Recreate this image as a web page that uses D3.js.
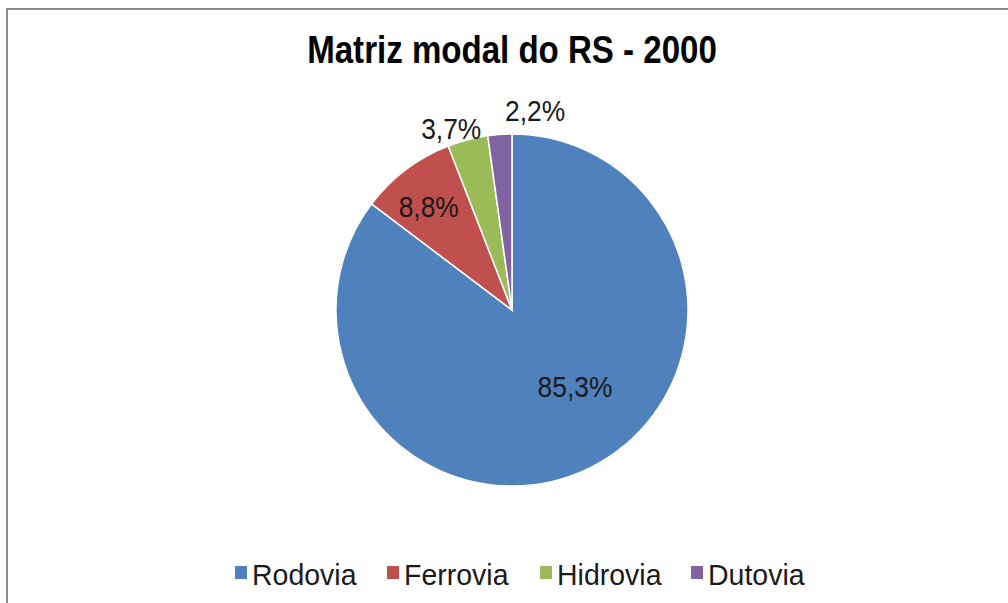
<!DOCTYPE html>
<html><head><meta charset="utf-8">
<script src="https://cdn.jsdelivr.net/npm/d3@7"></script>
<style>body{margin:0;background:#fff}svg{display:block}</style>
</head><body>
<svg id="c" width="1008" height="603"></svg>
<script>
const title = "Matriz modal do RS - 2000";
const categories = ["Rodovia", "Ferrovia", "Hidrovia", "Dutovia"];
const values = [85.3, 8.8, 3.7, 2.2];
const labels = ["85,3%", "8,8%", "3,7%", "2,2%"];
const colors = ["#4F81BD", "#C0504D", "#9BBB59", "#8064A2"];

const svg = d3.select("#c");
const W = 1008, H = 603;
svg.append("rect").attr("width", W).attr("height", H).attr("fill", "#fff");
// chart border
svg.append("rect").attr("x", 7).attr("y", 9).attr("width", 1010).attr("height", 610)
  .attr("fill", "none").attr("stroke", "#8c8c8c").attr("stroke-width", 2);

const cx = 512, cy = 310, R = 176;
const font = "'Liberation Sans', Arial, sans-serif";

svg.append("text").attr("transform", `translate(${cx},63) scale(0.87,1)`)
  .attr("text-anchor", "middle").attr("font-family", font).attr("font-weight", "bold")
  .attr("font-size", 38).attr("fill", "#000").text(title);

const color = d3.scaleOrdinal().domain(categories).range(colors);
const pie = d3.pie().sort(null).value(d => d.v);
const data = categories.map((c, i) => ({c, v: values[i], l: labels[i]}));
const arcs = pie(data);
const arc = d3.arc().innerRadius(0).outerRadius(R);

const g = svg.append("g").attr("transform", `translate(${cx},${cy})`);
g.selectAll("path").data(arcs).join("path")
  .attr("d", arc).attr("fill", d => color(d.data.c))
  .attr("stroke", "#fff").attr("stroke-width", 1.5);

// label placement (Excel "best fit")
const place = [ {r: 0.561, da: -0.23}, {r: 0.755, da: -0.03}, {r: 1.09, da: -0.068}, {r: 1.144, da: 0.184} ];
g.selectAll("text.lbl").data(arcs).join("text").attr("class", "lbl")
  .attr("transform", (d, i) => {
    const a = (d.startAngle + d.endAngle) / 2 + place[i].da;
    const rr = R * place[i].r;
    return `translate(${rr * Math.sin(a)},${-rr * Math.cos(a)}) scale(0.88,1)`;
  })
  .attr("text-anchor", "middle").attr("dy", "0.36em")
  .attr("font-family", font).attr("font-size", 30).attr("fill", "#1a1a1a")
  .text(d => d.data.l);

// legend
const legX = [235, 387, 540, 691];
const leg = svg.append("g");
const items = leg.selectAll("g").data(categories).join("g")
  .attr("transform", (d, i) => `translate(${legX[i]},0)`);
items.append("rect").attr("x", 0).attr("y", 566).attr("width", 12).attr("height", 13)
  .attr("fill", d => color(d));
items.append("text").attr("transform", "translate(17,585) scale(0.95,1)")
  .attr("font-family", font).attr("font-size", 30).attr("fill", "#1a1a1a").text(d => d);
</script>
</body></html>
